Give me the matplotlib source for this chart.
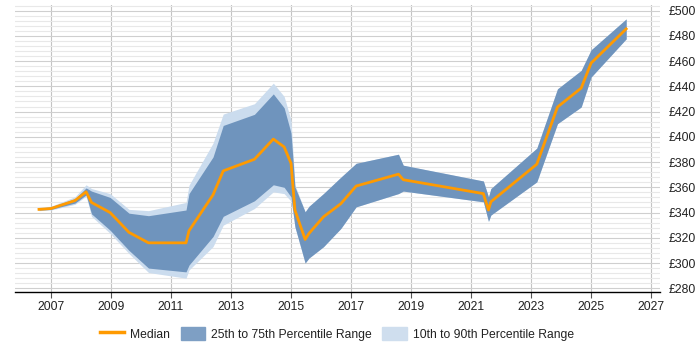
import matplotlib.pyplot as plt
from matplotlib.patches import Patch
from matplotlib.lines import Line2D
from matplotlib.ticker import MultipleLocator, FuncFormatter

# values (year, £)
years = [2006.60, 2007.00, 2007.80, 2008.17, 2008.35, 2008.97, 2009.60, 2010.25,
         2011.50, 2011.60, 2012.40, 2012.74, 2013.78, 2014.41, 2014.77, 2015.00,
         2015.13, 2015.47, 2015.60, 2016.08, 2016.66, 2017.17, 2018.58, 2018.74,
         2021.41, 2021.58, 2021.66, 2023.19, 2023.88, 2024.67, 2025.00, 2026.17]

median = [342.5, 343.2, 349.5, 356.4, 348.0, 340.0, 324.3, 316.0,
          316.0, 325.6, 354.0, 373.0, 382.2, 398.2, 392.0, 379.0,
          342.0, 318.7, 323.5, 336.6, 347.0, 361.0, 370.4, 366.0,
          355.0, 342.0, 348.5, 378.3, 423.6, 438.6, 458.4, 485.5]

p25 = [342.0, 342.5, 347.5, 354.0, 339.0, 326.0, 310.0, 296.0,
       293.0, 298.4, 321.0, 337.0, 349.3, 362.0, 360.0, 352.4,
       328.7, 300.0, 304.0, 312.9, 327.4, 344.5, 355.0, 357.0,
       348.5, 333.0, 338.0, 364.3, 410.4, 423.6, 447.3, 477.6]

p75 = [343.5, 344.5, 351.0, 359.5, 357.0, 352.0, 339.5, 337.5,
       342.0, 355.0, 384.0, 409.0, 417.8, 434.0, 423.0, 403.0,
       360.3, 340.6, 345.0, 355.0, 368.0, 379.0, 386.2, 377.5,
       365.0, 352.4, 359.0, 391.0, 438.0, 452.6, 468.9, 493.4]

p10 = [341.5, 342.0, 346.5, 353.0, 337.0, 323.5, 307.5, 292.5,
       288.0, 294.5, 313.0, 330.0, 343.2, 356.4, 355.0, 349.0,
       328.7, 300.0, 304.0, 312.9, 327.4, 344.5, 355.0, 357.0,
       348.5, 333.0, 338.0, 364.3, 410.4, 423.6, 447.3, 477.6]

p90 = [344.0, 345.0, 352.5, 362.0, 359.0, 355.0, 342.5, 341.5,
       348.0, 361.7, 395.0, 418.0, 426.2, 442.5, 432.0, 413.0,
       362.0, 340.6, 345.0, 355.0, 368.0, 379.0, 386.2, 377.5,
       365.0, 352.4, 359.0, 391.0, 438.0, 452.6, 468.9, 493.4]

year_ticks = list(range(2007, 2028, 2))

MEDIAN_COLOR = "#ff9a00"
IQR_COLOR = "#6f94bd"
DECILE_COLOR = "#cbdcee"


def main():
    plt.rcParams["font.family"] = ["Liberation Sans", "DejaVu Sans"]
    plt.rcParams["text.color"] = "#222222"

    fig = plt.figure(figsize=(7, 3.5), dpi=100)
    ax = fig.add_axes([0.0214, 0.1666, 0.9216, 0.8194])

    ax.fill_between(years, p10, p90, color=DECILE_COLOR, lw=0, zorder=2)
    ax.fill_between(years, p25, p75, color=IQR_COLOR, lw=0, zorder=3)
    ax.plot(years, median, color=MEDIAN_COLOR, lw=2, zorder=4)

    ax.set_xlim(2005.8, 2027.3)
    ax.set_ylim(277.3, 504.5)

    ax.set_xticks(year_ticks)
    ax.set_xticklabels([str(y) for y in year_ticks])
    ax.yaxis.set_major_locator(MultipleLocator(20))
    ax.yaxis.set_minor_locator(MultipleLocator(4))
    ax.yaxis.set_major_formatter(FuncFormatter(lambda v, p: "£%d" % v))
    ax.yaxis.tick_right()

    ax.grid(True, which="major", axis="x", color="#c4c4c4", lw=0.8, zorder=1)
    ax.grid(True, which="major", axis="y", color="#cfcfcf", lw=0.8, zorder=1)
    ax.grid(True, which="minor", axis="y", color="#e8e8e8", lw=0.8, zorder=0)
    ax.set_axisbelow(True)

    for side in ["top", "left", "right"]:
        ax.spines[side].set_visible(False)
    ax.spines["bottom"].set_color("black")
    ax.spines["bottom"].set_linewidth(1)

    ax.tick_params(axis="x", length=4, color="#555555", labelsize=8.7, pad=2.5,
                   labelcolor="#222222")
    ax.tick_params(axis="y", which="both", length=0, labelsize=8.7, pad=6,
                   labelcolor="#222222")

    handles = [
        Line2D([0], [0], color=MEDIAN_COLOR, lw=2.5),
        Patch(color="#7e9fc4"),
        Patch(color="#cfdeee"),
    ]
    labels = ["Median", "25th to 75th Percentile Range", "10th to 90th Percentile Range"]
    fig.legend(handles, labels, loc="center", bbox_to_anchor=(0.481, 0.046),
               ncol=3, frameon=False, fontsize=8.7, handlelength=2.0,
               handleheight=1.3, columnspacing=0.9, handletextpad=0.5)

    fig.savefig("out.png", dpi=100)
    plt.close(fig)


if __name__ == "__main__":
    main()
